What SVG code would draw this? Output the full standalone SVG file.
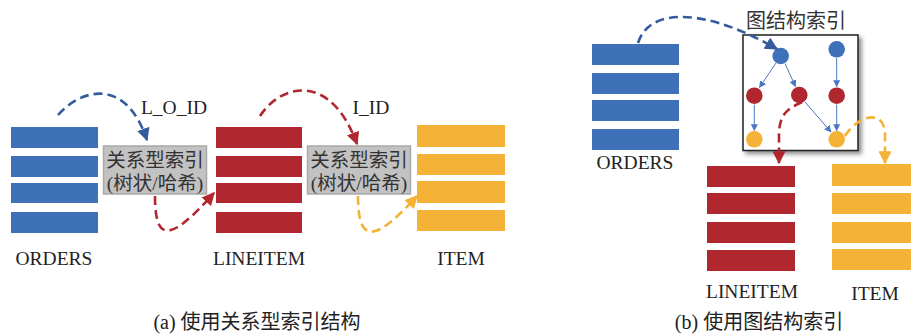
<svg xmlns="http://www.w3.org/2000/svg" width="911" height="336" viewBox="0 0 911 336">
<defs>
<style>
.lbl{font-family:"Liberation Serif","Noto Sans CJK SC",serif;font-size:19.5px;fill:#222;text-anchor:middle}
.cjk{font-family:"Liberation Serif","Noto Sans CJK SC",serif;font-size:19.5px;fill:#333;text-anchor:middle}
.cap{font-family:"Liberation Serif","Noto Sans CJK SC",serif;font-size:20px;fill:#222;text-anchor:middle}
.blue{fill:#3F71B9}
.red{fill:#B1272F}
.yel{fill:#F4B336}
.gbox{fill:#C2C2C2;stroke:#A9A9A9;stroke-width:1.5}
.dash{fill:none;stroke-width:2.6;stroke-dasharray:9 5}
.db{stroke:#345C9C}
.dr{stroke:#B1272F}
.dy{stroke:#F4B336}
.edge{stroke:#4A78C2;stroke-width:1;fill:none;marker-end:url(#ae)}
</style>
<marker id="ab" viewBox="0 0 10 10" refX="9" refY="5" markerWidth="5" markerHeight="5" orient="auto" markerUnits="strokeWidth"><path d="M0,0 L10,5 L0,10 z" fill="#345C9C"/></marker>
<marker id="ar" viewBox="0 0 10 10" refX="9" refY="5" markerWidth="5" markerHeight="5" orient="auto" markerUnits="strokeWidth"><path d="M0,0 L10,5 L0,10 z" fill="#B1272F"/></marker>
<marker id="ay" viewBox="0 0 10 10" refX="9" refY="5" markerWidth="5" markerHeight="5" orient="auto" markerUnits="strokeWidth"><path d="M0,0 L10,5 L0,10 z" fill="#F4B336"/></marker>
<marker id="ae" viewBox="0 0 10 10" refX="9" refY="5" markerWidth="7" markerHeight="7" orient="auto" markerUnits="strokeWidth"><path d="M0,0 L10,5 L0,10 z" fill="#4A78C2"/></marker>
<filter id="sh" x="-20%" y="-20%" width="140%" height="140%"><feDropShadow dx="3" dy="3" stdDeviation="2" flood-color="#444" flood-opacity="0.6"/></filter>
</defs>
<rect width="911" height="336" fill="#fff"/>

<!-- Panel (a) -->
<g id="orders-a">
<rect class="blue" x="11" y="127" width="87" height="21"/>
<rect class="blue" x="11" y="156" width="87" height="21"/>
<rect class="blue" x="11" y="183" width="87" height="20"/>
<rect class="blue" x="11" y="212" width="87" height="21"/>
<text class="lbl" x="54" y="265">ORDERS</text>
</g>
<g id="index1">
<rect class="gbox" x="103.5" y="146" width="103" height="48"/>
<text class="cjk" x="155" y="167">关系型索引</text>
<text class="cjk" x="155" y="190">(树状/哈希)</text>
</g>
<g id="lineitem-a">
<rect class="red" x="216" y="127" width="86" height="21"/>
<rect class="red" x="216" y="156" width="86" height="21"/>
<rect class="red" x="216" y="183" width="86" height="20"/>
<rect class="red" x="216" y="212" width="86" height="21"/>
<text class="lbl" x="259" y="265">LINEITEM</text>
</g>
<g id="index2">
<rect class="gbox" x="307.5" y="146" width="103" height="48"/>
<text class="cjk" x="359" y="167">关系型索引</text>
<text class="cjk" x="359" y="190">(树状/哈希)</text>
</g>
<g id="item-a">
<rect class="yel" x="417" y="125" width="88" height="22"/>
<rect class="yel" x="417" y="154" width="88" height="21"/>
<rect class="yel" x="417" y="181" width="88" height="22"/>
<rect class="yel" x="417" y="210" width="88" height="21"/>
<text class="lbl" x="461" y="265">ITEM</text>
</g>
<g id="labels-a">
<text class="lbl" x="174" y="114">L_O_ID</text>
<text class="lbl" x="371" y="114">I_ID</text>
</g>

<!-- Panel (b) -->
<g id="orders-b">
<rect class="blue" x="592" y="44" width="87" height="21"/>
<rect class="blue" x="592" y="73" width="87" height="21"/>
<rect class="blue" x="592" y="100" width="87" height="21"/>
<rect class="blue" x="592" y="129" width="87" height="21"/>
<text class="lbl" x="635" y="169">ORDERS</text>
</g>
<g id="graph-index">
<text class="cjk" x="796" y="28" style="font-size:20px">图结构索引</text>
<rect x="743" y="35" width="115" height="115.5" fill="#fff" stroke="#222" stroke-width="1.5" filter="url(#sh)"/>
<line class="edge" x1="776" y1="63" x2="759.5" y2="87.5"/>
<line class="edge" x1="785" y1="63.5" x2="795.5" y2="86.5"/>
<line class="edge" x1="836.7" y1="58" x2="836.7" y2="86.5"/>
<line class="edge" x1="754.3" y1="104.5" x2="754.3" y2="130.5"/>
<line class="edge" x1="805" y1="102" x2="831" y2="132"/>
<line class="edge" x1="836.7" y1="104.5" x2="836.7" y2="130.5"/>
<circle class="blue" cx="780.7" cy="56" r="8.3"/>
<circle class="blue" cx="836.7" cy="49.3" r="8.3"/>
<circle class="red" cx="754.3" cy="95.7" r="8.3"/>
<circle class="red" cx="799.3" cy="95" r="8.3"/>
<circle class="red" cx="836.7" cy="95.7" r="8.3"/>
<circle class="yel" cx="754.3" cy="139.3" r="8.3"/>
<circle class="yel" cx="836.7" cy="139.3" r="8.3"/>
</g>
<g id="lineitem-b">
<rect class="red" x="707" y="166" width="88" height="21"/>
<rect class="red" x="707" y="193" width="88" height="21"/>
<rect class="red" x="707" y="222" width="88" height="21"/>
<rect class="red" x="707" y="250" width="88" height="21"/>
<text class="lbl" x="752" y="298">LINEITEM</text>
</g>
<g id="item-b">
<rect class="yel" x="832" y="164" width="79" height="22"/>
<rect class="yel" x="832" y="193" width="79" height="21"/>
<rect class="yel" x="832" y="222" width="79" height="21"/>
<rect class="yel" x="832" y="249" width="79" height="21"/>
<text class="lbl" x="875" y="300">ITEM</text>
</g>

<g id="connectors">
<path class="dash db" d="M58,115 C80,90 125,75 147,140" marker-end="url(#ab)"/>
<path class="dash dr" d="M155,196 C155,245 172,240 214,193" marker-end="url(#ar)"/>
<path class="dash dr" d="M260,116 C280,85 330,70 357,144" marker-end="url(#ar)"/>
<path class="dash dy" d="M358,196 C358,247 377,240 417,196" marker-end="url(#ay)"/>
<path class="dash db" d="M638,43 C650,5 710,10 777,49" marker-end="url(#ab)"/>
<path class="dash dr" d="M802,102 C790,108 779,112 779,135 L779,163" marker-end="url(#ar)"/>
<path class="dash dy" d="M845,136 C858,115 885,108 885,135 L885,163" marker-end="url(#ay)"/>
</g>

<g id="captions">
<text class="cap" x="257" y="329">(a) 使用关系型索引结构</text>
<text class="cap" x="759" y="329">(b) 使用图结构索引</text>
</g>
</svg>
